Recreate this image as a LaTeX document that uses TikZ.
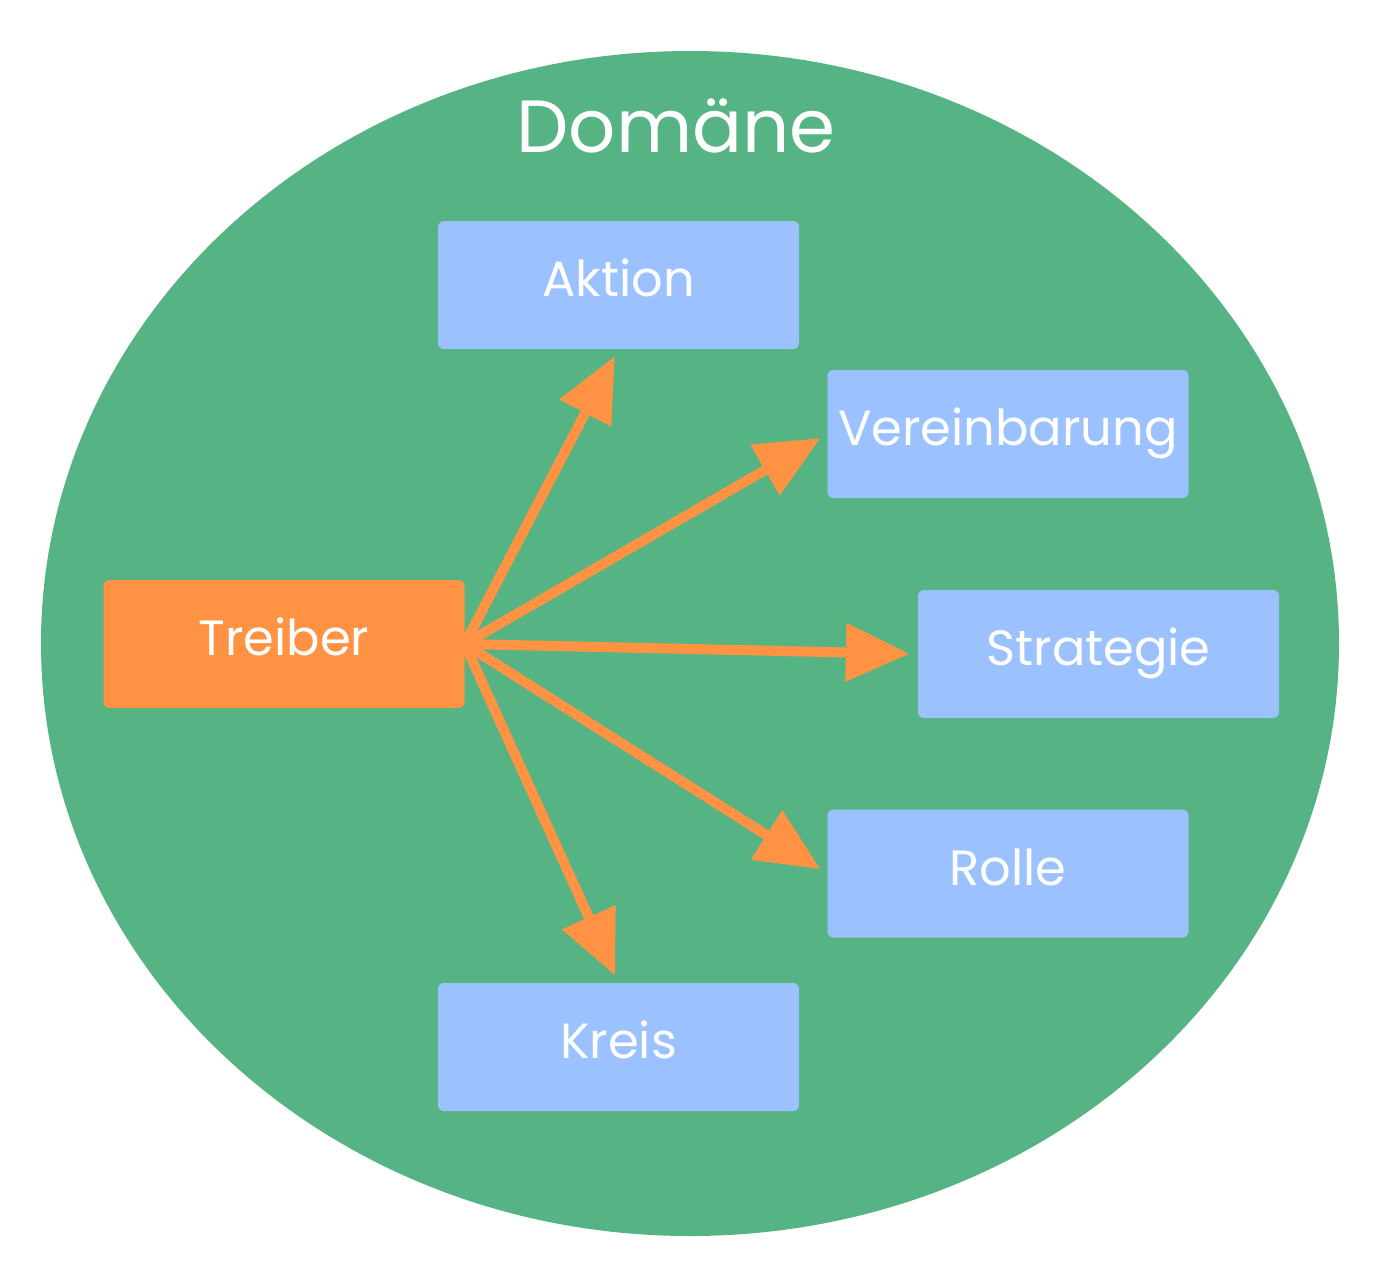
\documentclass[tikz,border=0pt]{standalone}
\usepackage{fontspec}
\setmainfont{Poppins}
\usetikzlibrary{arrows.meta,shapes.geometric}
\definecolor{domgreen}{RGB}{86,180,132}
\definecolor{boxblue}{RGB}{155,194,255}
\definecolor{drvorange}{RGB}{255,147,67}
\tikzset{
  elem/.style={fill=boxblue, rounded corners=6pt, minimum width=361pt, minimum height=128pt, inner sep=0pt, text=white, text height=35pt, text depth=12pt, font=\fontsize{49.5}{58}\selectfont},
  driver/.style={elem, fill=drvorange},
  link/.style={draw=drvorange, line width=10pt, shorten >=8pt, -{Triangle[length=64pt,width=56pt]}}
}
\begin{document}
\begin{tikzpicture}[x=1pt,y=-1pt]
\useasboundingbox (0,0) rectangle (1380,1263);
\fill[white] (0,0) rectangle (1380,1263);
\node[ellipse, fill=domgreen, minimum width=1298pt, minimum height=1185pt, inner sep=0pt] (dom) at (690,643.5) {};
\node[text=white, font=\fontsize{74}{84}\selectfont, anchor=base] (domlabel) at (676,152) {Domäne};
\node[elem] (akt) at (618.5,285) {Aktion};
\node[elem] (ver) at (1008,434) {Vereinbarung};
\node[elem] (str) at (1098.5,654) {Strategie};
\node[elem] (rol) at (1008,873.5) {Rolle};
\node[elem] (kre) at (618.5,1047) {Kreis};
\node[driver] (tre) at (284,644) {Treiber};
\draw[link] (tre.east) -- (akt.south);
\draw[link] (tre.east) -- (ver.west);
\draw[link] (tre.east) -- (str.west);
\draw[link] (tre.east) -- (rol.west);
\draw[link] (tre.east) -- (kre.north);
\end{tikzpicture}
\end{document}
